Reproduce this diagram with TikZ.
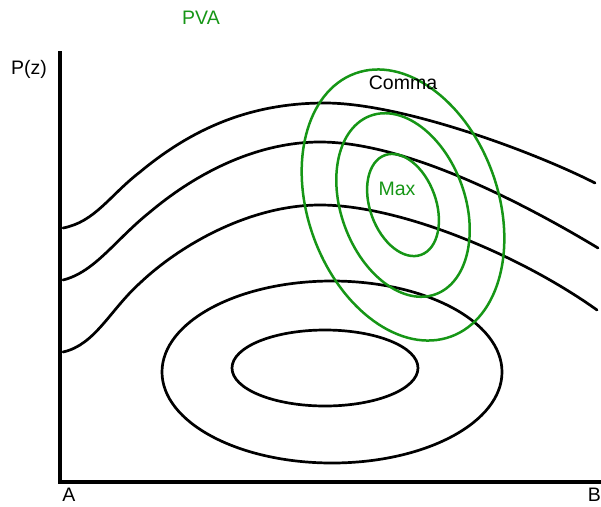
\documentclass[tikz,border=0pt]{standalone}
\usepackage{fontspec}
\setmainfont{Liberation Sans}
\usepackage{xcolor}
\usepackage{tikz}
\usetikzlibrary{positioning,calc}
\definecolor{pvagreen}{RGB}{22,150,22}

\begin{document}
\begin{tikzpicture}[x=1pt, y=-1pt,
    every node/.style={font=\fontsize{19.5}{22}\selectfont, inner sep=0pt},
    wave/.style={line width=2.7pt, line cap=round},
    lobe/.style={line width=2.7pt},
    ring/.style={line width=2.5pt, draw=pvagreen}]
  \useasboundingbox (0,0) rectangle (601,506);

  % axes
  \coordinate (top) at (60,51);
  \coordinate (origin) at (60,482);
  \coordinate (far) at (601,482);
  \draw[line width=3.8pt] (top) -- (origin) -- (far);

  \node (pz) at (29,69) {P(z)};
  \node[anchor=north] (a) at (69,488) {A};
  \node[anchor=north east] (b) at (601,488) {B};
  \node[text=pvagreen] (pva) at (201,18) {PVA};

  % wavy contours
  \draw[wave] (63,228) .. controls (95,222) and (110,195) .. (140,172)
      .. controls (200,122) and (260,103) .. (325,103)
      .. controls (400,103) and (530,150) .. (595,183);
  \draw[wave] (63,280) .. controls (95,272) and (115,240) .. (150,212)
      .. controls (200,170) and (260,142) .. (320,142)
      .. controls (400,142) and (510,195) .. (598,248);
  \draw[wave] (63,352) .. controls (95,345) and (110,310) .. (140,283)
      .. controls (180,245) and (250,205) .. (320,205)
      .. controls (400,205) and (520,255) .. (597,310);

  % low (black) and max (green) closed contours
  \coordinate (low) at (332,372);
  \draw[lobe] (low) ellipse [x radius=170, y radius=91];
  \draw[lobe] ($(low)+(-7,-4)$) ellipse [x radius=93, y radius=38];

  \coordinate (peak) at (403,205);
  \foreach \ra/\rb in {140/95, 95/62, 53/33}
    \draw[ring, rotate around={20:(peak)}] (peak) ellipse [x radius=\rb, y radius=\ra];

  \node (comma) at (403,83) {Comma};
  \node[text=pvagreen] (max) at (397,189) {Max};
\end{tikzpicture}
\end{document}
